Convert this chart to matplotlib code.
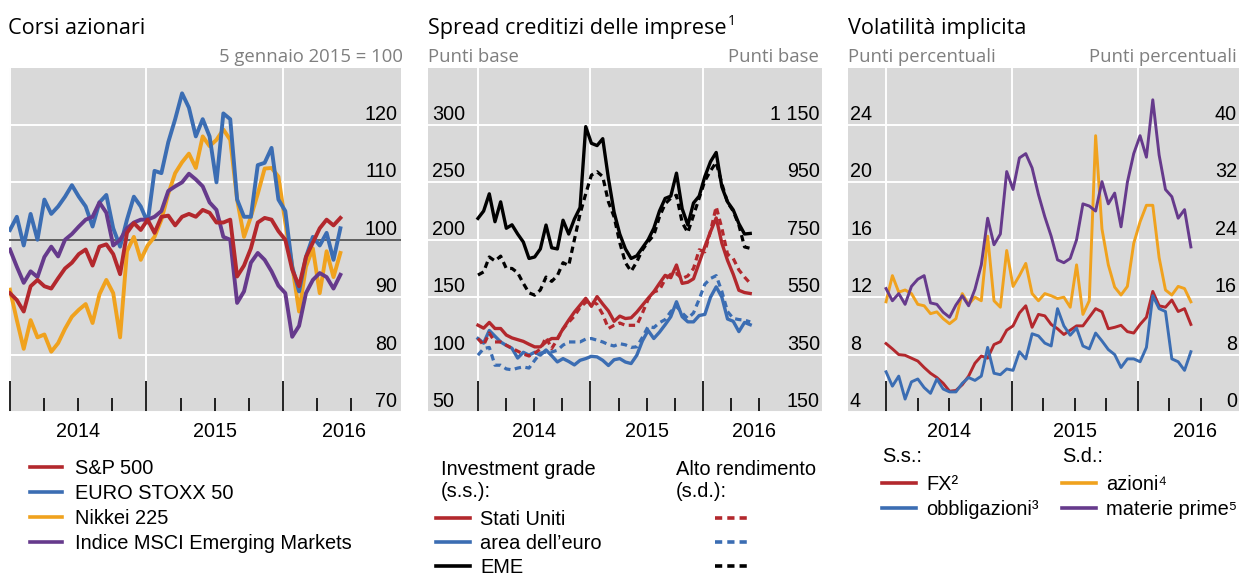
import numpy as np
import matplotlib.pyplot as plt
from matplotlib.lines import Line2D
from matplotlib.transforms import ScaledTranslation

plt.rcParams['font.family'] = ['Liberation Sans', 'DejaVu Sans']

W, H = 1239, 577
start, end = 2014.0, 2016.42   # first and last observation (decimal years)

# --- Corsi azionari (5 gennaio 2015 = 100)
sp500 = [90.7, 89.5, 87.5, 91.9, 93, 91.9, 91.5, 93.3, 95, 96, 97.5, 98.3, 95.5, 98.8, 99.2, 97.5, 94,
         101.2, 102.9, 101.7, 103.5, 101.2, 104, 104.2, 102.5, 104, 104.5, 104, 105.2, 104.7, 103, 103,
         103.5, 93.6, 95.5, 98.5, 103, 103.8, 103.5, 101.5, 100, 94.8, 91.9, 97, 99.5, 102, 103.5, 102.5, 103.8]
eurostoxx = [101.7, 104, 99, 104.5, 100, 107, 104.5, 105.8, 107.5, 109.5, 107.5, 105.8, 102.3, 106.5, 107.8,
             102, 98.8, 103.5, 107.5, 105.8, 103, 112, 111.6, 117, 121, 125.5, 123, 118, 121, 118, 110, 122,
             121, 107, 104, 104, 113, 113.4, 116, 107, 105, 95.3, 91, 97, 100.5, 99, 101.2, 96.5, 102]
nikkei = [91.3, 86, 81, 86, 83, 83.5, 80.5, 82, 84.5, 86.6, 87.8, 88.8, 85.5, 90.5, 93, 90.7, 83, 98, 100.5,
          96.5, 99, 100.5, 103.5, 108, 111.6, 113.5, 115, 112.5, 118, 116.3, 117.4, 119.2, 117.4, 107, 100.5,
          104, 108, 112.4, 112.5, 111, 103, 95.5, 87.5, 95.3, 98.5, 90.7, 98, 93.5, 97.7]
msci_em = [98.3, 95.3, 92.5, 94.5, 93.5, 97, 98.8, 97.1, 100, 101, 102.3, 103.5, 104, 106.5, 104.7, 99, 100,
           102, 103, 103.5, 103.5, 104, 105, 108.5, 109.3, 110, 111.5, 110.5, 109.3, 106.5, 105.2, 100.5, 100,
           89, 91, 96, 97.7, 96.5, 94.5, 92, 90.7, 83.1, 85, 90.7, 93, 94.2, 93.5, 91.5, 93.9]

# --- Spread creditizi: investment grade (s.s.), alto rendimento (s.d.), punti base
us_ig = [125.6, 123, 128, 122.7, 122.7, 117, 114.5, 113, 111.5, 109, 106.7, 106.7, 111, 114, 114, 122.5, 130,
         137, 143, 149, 142, 150.5, 144, 138, 129, 133.5, 131.4, 132, 137, 143, 149, 154.7, 162, 169, 167, 178,
         162, 163, 166, 180, 194, 207, 219, 197, 182, 170, 156, 154, 153.2]
ea_ig = [114, 110, 121, 116, 111, 108, 105.5, 97, 102, 99.5, 102, 99.5, 104, 99, 93.6, 96.5, 94, 91, 95, 96.5,
         98.5, 98, 95, 90.5, 95.5, 96.5, 93.5, 92.2, 99.4, 112, 121, 114, 119.5, 126, 133, 146, 133, 128.5,
         128.5, 134, 135, 150, 159, 150, 131, 129, 120, 128, 126]
eme_ig = [218.6, 225, 240, 215.7, 233, 210, 213, 205, 198, 183.7, 185, 192, 212.8, 193, 192, 217, 205, 218,
          228, 298.5, 284, 282, 288, 253.5, 224, 205, 192, 183.7, 186, 193, 200, 210, 225, 236, 238, 258, 227,
          212.8, 232, 238, 255, 268, 276, 246, 233, 226, 214, 205, 205.5]
us_hy = [405.8, 383, 425, 394, 394, 382.6, 372, 362, 352, 345, 355, 369, 410, 371, 403, 439, 463, 484, 514,
         532, 538, 525, 490, 441, 452, 460, 452, 452, 452, 495, 542, 568, 575, 612, 630, 632, 615, 624, 650,
         715, 708, 780, 865, 790, 700, 685, 645, 620, 598]
ea_hy = [348, 371, 375, 313, 313, 300, 297, 303, 307, 303, 330, 355, 359, 359, 365, 383, 394, 394, 394, 404,
         406, 400, 394, 385, 380, 388, 384, 375, 377, 410, 448, 444, 461, 472, 500, 518, 495, 476, 495, 543,
         595, 615, 625, 570, 500, 476, 472, 470, 464]
eme_hy = [627, 638, 690, 676, 693, 650, 650, 635, 598, 565, 557, 575, 620, 605, 625, 670, 660, 750, 840, 910,
          975, 987, 970, 882, 830, 740, 670, 640, 673, 715, 743, 766, 830, 875, 895, 905, 810, 775, 835, 895,
          955, 990, 1020, 945, 880, 850, 801, 725, 720]

# --- Volatilita implicita: FX, obbligazioni (s.s.); azioni, materie prime (s.d.)
fx_vol = [8.77, 8.4, 8.0, 7.95, 7.75, 7.55, 7.1, 6.7, 6.4, 6.0, 5.45, 5.5, 5.9, 6.5, 7.4, 7.9, 7.75, 8.7, 8.9,
          9.7, 10.0, 10.9, 11.4, 9.9, 10.8, 10.7, 10.1, 9.8, 9.4, 9.7, 10.0, 10.0, 10.6, 11.2, 10.98, 9.8, 9.9,
          10.04, 9.6, 9.5, 10.1, 10.6, 12.4, 11.4, 11.3, 11.8, 11.0, 11.2, 10.1]
bond_vol = [6.8, 5.8, 6.5, 4.9, 6.1, 6.3, 5.7, 5.3, 6.3, 5.6, 5.4, 5.4, 6.0, 6.4, 6.2, 6.5, 8.5, 6.7, 6.6, 7.0,
            6.9, 8.2, 7.7, 9.45, 9.3, 8.8, 8.6, 11.2, 10.0, 9.35, 9.85, 8.6, 8.4, 9.5, 8.95, 8.35, 8.0, 7.1, 7.7,
            7.7, 7.5, 8.5, 12.1, 11.2, 11.0, 7.7, 7.5, 6.9, 8.2]
equity_vol = [15.35, 19, 16.7, 17.0, 16.5, 15.0, 14.8, 13.7, 13.95, 13.0, 12.3, 13.0, 16.5, 15.0, 16.0, 15.5,
              24.5, 15.5, 14.6, 22.5, 17.5, 19.0, 20.7, 16.5, 15.5, 16.5, 16.2, 15.8, 16.0, 14.6, 20.5, 13.6,
              15.5, 38.5, 25.5, 20.5, 17.4, 16.3, 17.5, 23.5, 26.5, 28.8, 28.8, 21.5, 17.0, 16.3, 17.5, 17.2, 15.35]
commod_vol = [17.2, 15.5, 16.5, 15.0, 17.5, 18.5, 19.0, 15.2, 15.0, 13.9, 13.2, 14.9, 16.2, 14.8, 17.1, 20.5,
              27.0, 23.3, 24.8, 33.5, 31.0, 35.4, 36.0, 34.0, 30.3, 27.2, 24.5, 21.2, 20.8, 21.4, 24.0, 29.0,
              28.7, 28.0, 32.1, 29.0, 30.5, 25.8, 32.0, 36.0, 38.5, 35.5, 43.5, 35.8, 31.0, 30.0, 27.0, 28.2, 23.0]

years = [2014, 2015, 2016]
year_label_pos = [2014.5, 2015.5, 2016.45]
quarters = [2014.25, 2014.5, 2014.75, 2015.25, 2015.5, 2015.75, 2016.25, 2016.5]

RED, BLUE, ORANGE, PURPLE = '#b3282d', '#3b6db3', '#f0a21e', '#663a8c'
BG, UNIT_GRAY = '#d9d9d9', '#7f7f7f'
TICK_FS, LEG_FS = 14.2, 14.4
TITLE_FONT = ['Open Sans', 'DejaVu Sans']


def t(series):
    return np.linspace(start, end, len(series))


def box(x0, x1, top=67.5, bottom=412):
    return [x0 / W, 1 - bottom / H, (x1 - x0) / W, (bottom - top) / H]


fig = plt.figure(figsize=(W / 100, H / 100), dpi=100)


def offset(dx, dy):
    return ScaledTranslation(dx / 100, dy / 100, fig.dpi_scale_trans)


def style(ax, xlim, ylim, yticks):
    ax.set_facecolor(BG)
    ax.set_xlim(xlim)
    ax.set_ylim(ylim)
    ax.set_yticks(yticks)
    ax.set_xticks(years)
    ax.set_xticks(quarters, minor=True)
    ax.tick_params(axis='x', which='major', direction='in', length=22, width=1.2, color='black', labelbottom=False)
    ax.tick_params(axis='x', which='minor', direction='in', length=10, width=1.2, color='black')
    ax.tick_params(axis='y', length=0, labelleft=False, labelright=False)
    for s in ax.spines.values():
        s.set_visible(False)
    ax.grid(True, which='major', color='white', lw=1.4)
    ax.set_axisbelow(True)
    for x, lab in zip(year_label_pos, years):
        ax.text(x, 0, str(lab), transform=ax.get_xaxis_transform() + offset(0, -25),
                ha='center', va='baseline', fontsize=TICK_FS)


def ylabels(ax, ticks, labels, side, pad):
    x, ha, dx = (1, 'right', -pad) if side == 'right' else (0, 'left', pad)
    for v, lab in zip(ticks, labels):
        ax.text(x, v, lab, transform=ax.get_yaxis_transform() + offset(dx, 5),
                ha=ha, va='baseline', fontsize=TICK_FS)


def twin(ax, ylim):
    ax2 = ax.twinx()
    ax2.set_ylim(ylim)
    ax2.tick_params(axis='y', length=0, labelright=False)
    for s in ax2.spines.values():
        s.set_visible(False)
    return ax2


# ---------------- panel 1
ax1 = fig.add_axes(box(9, 401))
y1 = [70, 80, 90, 100, 110, 120]
style(ax1, (2013.993, 2016.864), (70, 130), y1)
ax1.axhline(100, color='#333333', lw=1.1, zorder=1.5)
ax1.plot(t(nikkei), nikkei, color=ORANGE, lw=2.8)
ax1.plot(t(eurostoxx), eurostoxx, color=BLUE, lw=2.8)
ax1.plot(t(msci_em), msci_em, color=PURPLE, lw=2.8)
ax1.plot(t(sp500), sp500, color=RED, lw=2.8)
ylabels(ax1, y1, [str(v) for v in y1], 'right', 4)

# ---------------- panel 2
ax2 = fig.add_axes(box(428, 822))
y2 = [50, 100, 150, 200, 250, 300]
style(ax2, (2013.556, 2017.058), (50, 350), y2)
ax2r = twin(ax2, (150, 1350))
dash = (0, (2, 1.4))
for s, c in [(us_ig, RED), (ea_ig, BLUE), (eme_ig, 'black')]:
    ax2.plot(t(s), s, color=c, lw=2.4)
for s, c in [(us_hy, RED), (ea_hy, BLUE), (eme_hy, 'black')]:
    ax2r.plot(t(s), s, color=c, lw=2.3, ls=dash)
ylabels(ax2, y2, [str(v) for v in y2], 'left', 4)
y2r = [150, 350, 550, 750, 950, 1150]
ylabels(ax2r, y2r, ['150', '350', '550', '750', '950', '1 150'], 'right', 2)

# ---------------- panel 3
ax3 = fig.add_axes(box(848, 1239))
y3 = [4, 8, 12, 16, 20, 24]
style(ax3, (2013.698, 2016.802), (4, 28), y3)
ax3r = twin(ax3, (0, 48))
ax3.plot(t(fx_vol), fx_vol, color=RED, lw=2.1)
ax3.plot(t(bond_vol), bond_vol, color=BLUE, lw=2.1)
ax3r.plot(t(equity_vol), equity_vol, color=ORANGE, lw=2.1)
ax3r.plot(t(commod_vol), commod_vol, color=PURPLE, lw=2.1)
ylabels(ax3, y3, [str(v) for v in y3], 'left', 2)
y3r = [0, 8, 16, 24, 32, 40]
ylabels(ax3r, y3r, [str(v) for v in y3r], 'right', 2)

# ---------------- titles and units
def ftext(x, y, s, **kw):
    return fig.text(x / W, 1 - y / H, s, **kw)


title_kw = dict(fontsize=15.6, family=TITLE_FONT, va='baseline')
unit_kw = dict(fontsize=13.3, family=TITLE_FONT, va='baseline', color=UNIT_GRAY)
ftext(8, 34, 'Corsi azionari', **title_kw)
spread_title = ftext(428, 34, 'Spread creditizi delle imprese', **title_kw)
ax2.annotate('1', xy=(1, 1), xycoords=spread_title, xytext=(1, 3), textcoords='offset points',
             ha='left', va='top', fontsize=10, family=TITLE_FONT, annotation_clip=False)
ftext(848, 34, 'Volatilità implicita', **title_kw)
ftext(403, 62, '5 gennaio 2015 = 100', ha='right', **unit_kw)
ftext(428, 62, 'Punti base', **unit_kw)
ftext(819, 62, 'Punti base', ha='right', **unit_kw)
ftext(848, 62, 'Punti percentuali', **unit_kw)
ftext(1237, 62, 'Punti percentuali', ha='right', **unit_kw)

# ---------------- legends
def legend(x, y_first, entries, hl=1.7, spacing=0.31, pad=0.5):
    handles = [Line2D([], [], color=c, lw=2.6, ls=ls) for _, c, ls in entries]
    labels = [lab for lab, _, _ in entries]
    fig.legend(handles, labels, loc='upper left', bbox_to_anchor=(x / W, 1 - (y_first - 7.2) / H),
               frameon=False, fontsize=LEG_FS, borderpad=0, borderaxespad=0,
               handlelength=hl, handletextpad=pad, labelspacing=spacing)


legend(30, 466, [('S&P 500', RED, '-'), ('EURO STOXX 50', BLUE, '-'),
                 ('Nikkei 225', ORANGE, '-'), ('Indice MSCI Emerging Markets', PURPLE, '-')],
       hl=1.6, pad=0.65)

ftext(441, 480.5, 'Investment grade\n(s.s.):', fontsize=LEG_FS, va='center')
ftext(676, 480.5, 'Alto rendimento\n(s.d.):', fontsize=LEG_FS, va='center')
legend(436, 517, [('Stati Uniti', RED, '-'), ('area dell’euro', BLUE, '-'), ('EME', 'black', '-')],
       spacing=0.25)
legend(715, 517, [('', RED, dash), ('', BLUE, dash), ('', 'black', dash)], spacing=0.25)

ftext(882, 457, 'S.s.:', fontsize=LEG_FS, va='center')
ftext(1062, 457, 'S.d.:', fontsize=LEG_FS, va='center')
legend(882, 482, [('FX²', RED, '-'), ('obbligazioni³', BLUE, '-')])
legend(1062, 482, [('azioni⁴', ORANGE, '-'), ('materie prime⁵', PURPLE, '-')])

fig.savefig('out.png', dpi=100)
